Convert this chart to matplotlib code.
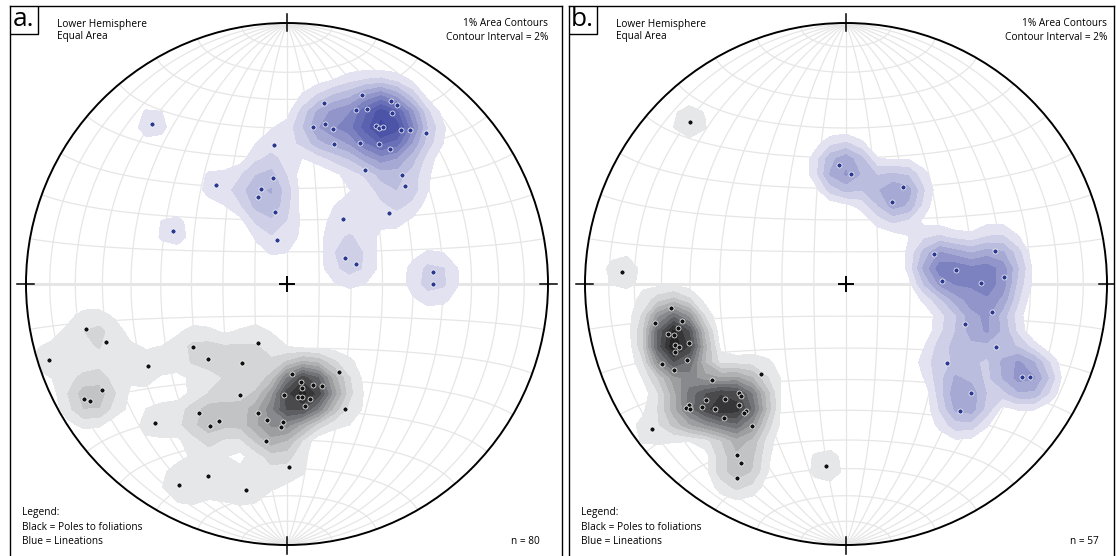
import numpy as np
import matplotlib
matplotlib.use("Agg")
import matplotlib.pyplot as plt
from matplotlib.patches import Circle, Rectangle

plt.rcParams['font.family'] = ['Open Sans', 'DejaVu Sans']

# point positions on the net, (east, north) in units of the primitive radius
a_blue_x = [0.286, 0.142, 0.398, 0.423, 0.263, 0.307, 0.401, 0.147, 0.100, 0.176,
            0.341, 0.354, 0.369, 0.438, 0.471, 0.531, -0.051, 0.180, 0.281, 0.354,
            0.396, 0.300, 0.441, -0.055, -0.517, -0.272, -0.100, -0.111, -0.437, -0.046,
            -0.038, 0.215, 0.391, 0.222, 0.264, 0.559, 0.559, 0.452]
a_blue_y = [0.724, 0.692, 0.701, 0.686, 0.666, 0.669, 0.654, 0.614, 0.602, 0.595,
            0.604, 0.597, 0.600, 0.590, 0.590, 0.577, 0.531, 0.536, 0.539, 0.535,
            0.516, 0.438, 0.418, 0.407, 0.613, 0.379, 0.364, 0.333, 0.203, 0.276,
            0.169, 0.249, 0.272, 0.100, 0.077, 0.046, 0.000, 0.375]

a_black_x = [-0.112, -0.304, -0.174, 0.020, 0.199, 0.055, 0.100, 0.133, 0.059, -0.011,
             -0.179, 0.041, 0.057, 0.089, 0.070, 0.221, -0.338, -0.110, -0.261, -0.077,
             -0.014, -0.295, -0.023, -0.079, 0.008, -0.303, -0.158, -0.414, -0.770, -0.695,
             -0.912, -0.710, -0.778, -0.755, -0.533, -0.506, -0.360]
a_black_y = [-0.227, -0.287, -0.302, -0.344, -0.336, -0.374, -0.388, -0.392, -0.398, -0.425,
             -0.426, -0.434, -0.434, -0.439, -0.466, -0.479, -0.493, -0.495, -0.524, -0.522,
             -0.528, -0.544, -0.549, -0.600, -0.701, -0.736, -0.788, -0.770, -0.174, -0.221,
             -0.291, -0.405, -0.442, -0.447, -0.314, -0.533, -0.240]

b_blue_x = [0.337, 0.571, 0.421, 0.367, 0.516, 0.604, 0.561, 0.456, 0.576, 0.388,
            0.673, 0.705, 0.479, 0.438, -0.027, 0.018, 0.217, 0.176]
b_blue_y = [0.114, 0.125, 0.055, 0.011, 0.003, 0.026, -0.107, -0.154, -0.243, -0.303,
            -0.357, -0.357, -0.416, -0.488, 0.455, 0.420, 0.372, 0.313]

b_black_x = [-0.857, -0.670, -0.733, -0.627, -0.643, -0.681, -0.659, -0.603, -0.655, -0.641,
             -0.656, -0.608, -0.704, -0.659, -0.327, -0.513, -0.536, -0.465, -0.410, -0.402,
             -0.600, -0.614, -0.598, -0.552, -0.502, -0.410, -0.384, -0.391, -0.467, -0.359,
             -0.744, -0.598, -0.418, -0.402, -0.418, -0.077]
b_black_y = [0.047, -0.091, -0.151, -0.141, -0.170, -0.190, -0.197, -0.227, -0.234, -0.243,
             -0.262, -0.292, -0.308, -0.331, -0.344, -0.368, -0.444, -0.442, -0.419, -0.428,
             -0.462, -0.474, -0.479, -0.472, -0.480, -0.465, -0.485, -0.494, -0.513, -0.543,
             -0.556, 0.621, -0.655, -0.686, -0.743, -0.697]

grays = ['#e6e7e8', '#d4d5d6', '#c2c3c5', '#b0b1b3', '#9c9ea0', '#88898c',
         '#737477', '#5e5f62', '#4a4a4d', '#363638', '#232324']
blues = ['#e2e2f0', '#cfd0e7', '#bbbdde', '#a6a9d4', '#9195ca', '#7c81c0',
         '#6a70b7', '#5a61af', '#4c54a8', '#4049a2', '#363f9b']
levels = [2, 4, 6, 8, 10, 12, 14, 16, 18, 20, 22]

W, H = 1116, 556
R = 261.0
fig = plt.figure(figsize=(W / 100, H / 100), dpi=100)


def project(lon, lat):
    lon = np.radians(lon)
    lat = np.radians(lat)
    k = np.sqrt(2.0 / (1.0 + np.cos(lat) * np.cos(lon)))
    return k * np.cos(lat) * np.sin(lon) / np.sqrt(2), k * np.sin(lat) / np.sqrt(2)


def density(xs, ys, gx, gy, h=0.17):
    # smoothed point count, in percent of the set
    xs = np.asarray(xs)
    ys = np.asarray(ys)
    d2 = ((gx[..., None] - xs) ** 2 + (gy[..., None] - ys) ** 2) / h ** 2
    k = np.clip(1.0 - d2, 0, None) ** 2
    return 100.0 * k.sum(-1) / len(xs)


def draw_net(box, cx, cy, label, n, black, blue):
    x0, y0, x1, y1 = box
    ax = fig.add_axes([x0 / W, 1 - y1 / H, (x1 - x0) / W, (y1 - y0) / H])
    ax.set_xlim((x0 - cx) / R, (x1 - cx) / R)
    ax.set_ylim((cy - y1) / R, (cy - y0) / R)
    ax.set_xticks([])
    ax.set_yticks([])
    for s in ax.spines.values():
        s.set_linewidth(1.0)

    prim = Circle((0, 0), 1.0, transform=ax.transData, facecolor='none')

    # equal-area net, 10 degree spacing
    t = np.linspace(-90, 90, 181)
    for lon in range(-80, 90, 10):
        gx_, gy_ = project(np.full_like(t, lon), t)
        ax.plot(gx_, gy_, color='#e6e6e6', lw=0.9, zorder=1)
    for lat in range(-80, 90, 10):
        gx_, gy_ = project(t, np.full_like(t, lat))
        ax.plot(gx_, gy_, color='#e6e6e6', lw=2.2 if lat == 0 else 0.9, zorder=1)

    g = np.linspace(-1.08, 1.08, 37)
    gx, gy = np.meshgrid(g, g)
    for (xs, ys), cols in ((black, grays), (blue, blues)):
        d = density(xs, ys, gx, gy)
        cs = ax.contourf(gx, gy, d, levels=levels, colors=cols[:-1], extend='max', zorder=2)
        cs.cmap.set_over(cols[-1])
        cs.set_clip_path(prim)

    ax.scatter(black[0], black[1], s=13, color='#111111', edgecolor='white', linewidth=0.5, zorder=4)
    ax.scatter(blue[0], blue[1], s=13, color='#2b3990', edgecolor='white', linewidth=0.5, zorder=4)

    ax.add_patch(Circle((0, 0), 1.0, facecolor='none', edgecolor='black', lw=1.4, zorder=5))
    for dx, dy in ((1, 0), (-1, 0), (0, 1), (0, -1)):
        ax.plot([dx * 0.97, dx * 1.035], [dy * 0.97, dy * 1.035], color='black', lw=1.1, zorder=5)
    ax.plot([-0.027, 0.027], [0, 0], color='black', lw=1.4, zorder=5)
    ax.plot([0, 0], [-0.027, 0.027], color='black', lw=1.4, zorder=5)

    # corner texts, placed in pixel offsets from the panel box
    def txt(px, py, s, **kw):
        ax.text((px - cx) / R, (cy - py) / R, s, fontsize=7.3, va='center', zorder=6, **kw)

    ax.add_patch(Rectangle(((x0 - cx) / R, (cy - y0 - 28) / R), 28 / R, 28 / R,
                           facecolor='white', edgecolor='black', lw=1.0, zorder=6))
    ax.text((x0 + 13 - cx) / R, (cy - y0 - 13) / R, label, fontsize=19, ha='center',
            va='center', zorder=7)
    txt(x0 + 47, 24, 'Lower Hemisphere')
    txt(x0 + 47, 37, 'Equal Area')
    txt(cx + 261, 23, '1% Area Contours', ha='right')
    txt(cx + 261, 38, 'Contour Interval = 2%', ha='right')
    txt(x0 + 12, 513, 'Legend:')
    txt(x0 + 12, 527, 'Black = Poles to foliations')
    txt(x0 + 12, 542, 'Blue = Lineations')
    txt(cx + 253, 542, f'n = {n}', ha='right')


draw_net((10, 6, 562, 558), 287, 284, 'a.', 80, (a_black_x, a_black_y), (a_blue_x, a_blue_y))
draw_net((569, 6, 1114, 558), 846, 284, 'b.', 57, (b_black_x, b_black_y), (b_blue_x, b_blue_y))

fig.savefig('out.png', dpi=100)
